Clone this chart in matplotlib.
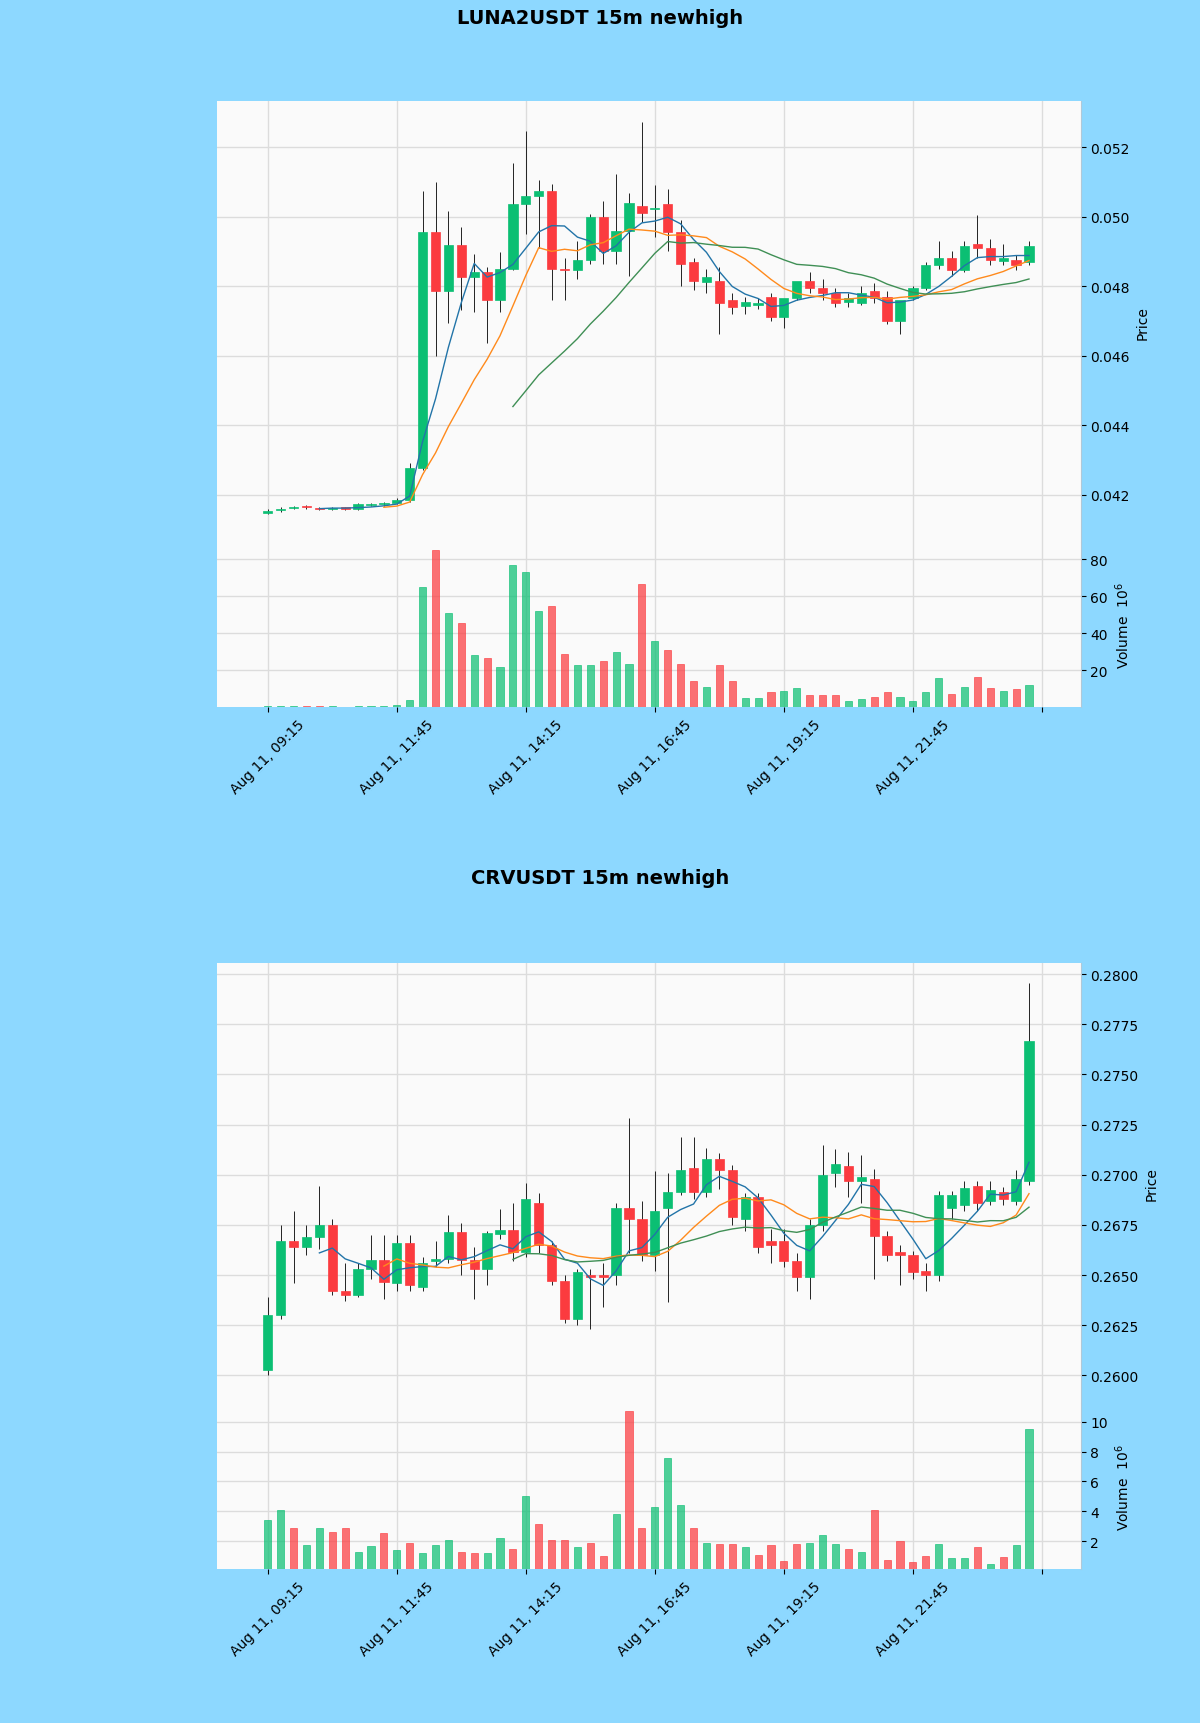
import numpy as np
import matplotlib
matplotlib.use("Agg")
import matplotlib.pyplot as plt

# ---- LUNA2USDT 15m ----
luna_open = [0.04148, 0.04155, 0.04162, 0.04166, 0.04160, 0.04159, 0.04161, 0.04158, 0.04171, 0.04172,
             0.04175, 0.04184, 0.04276, 0.04956, 0.04785, 0.04918, 0.04827, 0.04840, 0.04760, 0.04850,
             0.05035, 0.05060, 0.05075, 0.04850, 0.04845, 0.04875, 0.05000, 0.04900, 0.04960, 0.05030,
             0.05022, 0.05035, 0.04955, 0.04870, 0.04812, 0.04815, 0.04760, 0.04742, 0.04745, 0.04770,
             0.04710, 0.04765, 0.04815, 0.04795, 0.04780, 0.04755, 0.04750, 0.04785, 0.04770, 0.04700,
             0.04765, 0.04795, 0.04860, 0.04880, 0.04845, 0.04920, 0.04910, 0.04872, 0.04875, 0.04870]
luna_close = [0.04152, 0.04160, 0.04165, 0.04163, 0.04158, 0.04160, 0.04160, 0.04172, 0.04172, 0.04175,
              0.04185, 0.04276, 0.04956, 0.04785, 0.04918, 0.04827, 0.04840, 0.04760, 0.04850, 0.05035,
              0.05060, 0.05075, 0.04850, 0.04845, 0.04875, 0.05000, 0.04900, 0.04960, 0.05040, 0.05010,
              0.05026, 0.04955, 0.04865, 0.04815, 0.04825, 0.04750, 0.04740, 0.04755, 0.04752, 0.04710,
              0.04765, 0.04815, 0.04795, 0.04780, 0.04750, 0.04765, 0.04780, 0.04765, 0.04700, 0.04760,
              0.04795, 0.04860, 0.04880, 0.04845, 0.04915, 0.04910, 0.04875, 0.04880, 0.04860, 0.04915]
luna_high = [0.04160, 0.04163, 0.04168, 0.04170, 0.04163, 0.04163, 0.04165, 0.04175, 0.04176, 0.04178,
             0.04190, 0.04290, 0.05073, 0.05099, 0.05016, 0.04969, 0.04893, 0.04855, 0.04898, 0.05153,
             0.05247, 0.05105, 0.05095, 0.04880, 0.04930, 0.05007, 0.05045, 0.05124, 0.05068, 0.05273,
             0.05092, 0.05080, 0.04990, 0.04880, 0.04850, 0.04855, 0.04780, 0.04770, 0.04765, 0.04780,
             0.04740, 0.04800, 0.04840, 0.04820, 0.04795, 0.04780, 0.04800, 0.04810, 0.04785, 0.04740,
             0.04800, 0.04870, 0.04930, 0.04900, 0.04930, 0.05004, 0.04935, 0.04920, 0.04890, 0.04930]
luna_low = [0.04145, 0.04150, 0.04158, 0.04160, 0.04155, 0.04155, 0.04157, 0.04155, 0.04168, 0.04168,
            0.04172, 0.04180, 0.04270, 0.04599, 0.04694, 0.04732, 0.04725, 0.04637, 0.04725, 0.04845,
            0.04950, 0.04910, 0.04760, 0.04760, 0.04820, 0.04865, 0.04865, 0.04865, 0.04830, 0.04985,
            0.04940, 0.04900, 0.04800, 0.04790, 0.04780, 0.04662, 0.04720, 0.04720, 0.04735, 0.04700,
            0.04680, 0.04760, 0.04780, 0.04760, 0.04740, 0.04740, 0.04745, 0.04750, 0.04690, 0.04662,
            0.04760, 0.04790, 0.04850, 0.04830, 0.04840, 0.04880, 0.04860, 0.04860, 0.04845, 0.04860]
luna_volume = [0.5, 0.8, 0.5, 0.6, 0.7, 0.5, 0.4, 0.6, 0.5, 0.7,
               1.0, 4.0, 65.0, 85.0, 51.0, 45.5, 28.0, 26.7, 22.0, 77.0,
               73.0, 52.0, 55.0, 29.0, 23.0, 23.0, 25.0, 29.7, 23.6, 66.7,
               35.8, 31.0, 23.6, 14.0, 11.0, 23.0, 14.0, 5.0, 5.0, 8.0,
               9.0, 10.3, 6.7, 6.7, 6.7, 3.6, 4.2, 5.5, 8.0, 5.5,
               3.6, 8.0, 16.0, 7.3, 11.0, 16.4, 10.3, 9.0, 9.7, 12.0]

# ---- CRVUSDT 15m ----
crv_open = [0.26027, 0.26302, 0.26669, 0.26640, 0.26690, 0.26751, 0.26422, 0.26400, 0.26530, 0.26576,
            0.26460, 0.26660, 0.26439, 0.26570, 0.26580, 0.26713, 0.26576, 0.26530, 0.26707, 0.26724,
            0.26614, 0.26860, 0.26652, 0.26471, 0.26280, 0.26500, 0.26499, 0.26500, 0.26833, 0.26778,
            0.26598, 0.26833, 0.26915, 0.27036, 0.26915, 0.27080, 0.27025, 0.26778, 0.26888, 0.26669,
            0.26669, 0.26570, 0.26488, 0.26751, 0.27009, 0.27042, 0.26970, 0.26981, 0.26696, 0.26614,
            0.26598, 0.26520, 0.26500, 0.26833, 0.26850, 0.26943, 0.26871, 0.26915, 0.26871, 0.26970]
crv_close = [0.26302, 0.26669, 0.26640, 0.26690, 0.26751, 0.26422, 0.26400, 0.26530, 0.26576, 0.26466,
             0.26660, 0.26450, 0.26560, 0.26580, 0.26713, 0.26576, 0.26530, 0.26710, 0.26724, 0.26614,
             0.26877, 0.26652, 0.26471, 0.26280, 0.26515, 0.26488, 0.26488, 0.26833, 0.26778, 0.26598,
             0.26817, 0.26915, 0.27025, 0.26915, 0.27080, 0.27025, 0.26790, 0.26888, 0.26641, 0.26652,
             0.26570, 0.26488, 0.26751, 0.26998, 0.27052, 0.26970, 0.26990, 0.26696, 0.26598, 0.26598,
             0.26515, 0.26500, 0.26899, 0.26899, 0.26932, 0.26860, 0.26926, 0.26877, 0.26981, 0.27667]
crv_high = [0.26390, 0.26750, 0.26817, 0.26750, 0.26943, 0.26780, 0.26560, 0.26560, 0.26700, 0.26700,
            0.26700, 0.26700, 0.26590, 0.26670, 0.26800, 0.26760, 0.26640, 0.26720, 0.26830, 0.26860,
            0.26960, 0.26910, 0.26670, 0.26500, 0.26530, 0.26530, 0.26560, 0.26860, 0.27283, 0.26870,
            0.27020, 0.27010, 0.27190, 0.27190, 0.27135, 0.27110, 0.27050, 0.26910, 0.26910, 0.26730,
            0.26730, 0.26610, 0.26780, 0.27146, 0.27130, 0.27115, 0.27100, 0.27030, 0.26720, 0.26650,
            0.26620, 0.26560, 0.26920, 0.26920, 0.26970, 0.26970, 0.26970, 0.26940, 0.27025, 0.27957]
crv_low = [0.26000, 0.26280, 0.26460, 0.26600, 0.26630, 0.26400, 0.26370, 0.26390, 0.26480, 0.26380,
           0.26420, 0.26420, 0.26420, 0.26540, 0.26560, 0.26500, 0.26380, 0.26450, 0.26680, 0.26570,
           0.26590, 0.26610, 0.26450, 0.26260, 0.26250, 0.26230, 0.26340, 0.26450, 0.26610, 0.26570,
           0.26520, 0.26367, 0.26900, 0.26880, 0.26890, 0.26930, 0.26750, 0.26720, 0.26610, 0.26560,
           0.26540, 0.26420, 0.26380, 0.26720, 0.26940, 0.26890, 0.26860, 0.26480, 0.26570, 0.26450,
           0.26480, 0.26420, 0.26470, 0.26780, 0.26820, 0.26820, 0.26850, 0.26850, 0.26850, 0.26950]
crv_volume = [3.44, 4.1, 2.9, 1.75, 2.9, 2.6, 2.9, 1.25, 1.7, 2.55,
              1.4, 1.9, 1.2, 1.75, 2.1, 1.25, 1.2, 1.2, 2.2, 1.45,
              5.05, 3.15, 2.05, 2.05, 1.6, 1.9, 1.0, 3.8, 10.7, 2.9,
              4.3, 7.6, 4.45, 2.85, 1.9, 1.8, 1.8, 1.6, 1.1, 1.75,
              0.65, 1.8, 1.9, 2.4, 1.8, 1.45, 1.25, 4.1, 0.75, 2.0,
              0.6, 1.0, 1.8, 0.9, 0.9, 1.6, 0.45, 0.95, 1.75, 9.5]

tick_pos = [0, 10, 20, 30, 40, 50, 60]
tick_labels = ['Aug 11, 09:15', 'Aug 11, 11:45', 'Aug 11, 14:15', 'Aug 11, 16:45',
               'Aug 11, 19:15', 'Aug 11, 21:45', '']
mav_periods = [5, 10, 20]

UP = '#0bbf73'
DOWN = '#fb3b3f'
MAV_COLORS = ['#2274a8', '#ff8a1c', '#3f8f55']
FIG_BG = '#8dd8ff'
AX_BG = '#fafafa'
GRID = '#dcdcdc'


def moving_avg(vals, n):
    vals = np.asarray(vals)
    out = np.full(len(vals), np.nan)
    out[n - 1:] = np.convolve(vals, np.ones(n) / n, mode='valid')
    return out


def style_axis(ax):
    ax.set_facecolor(AX_BG)
    ax.grid(True, color=GRID, linewidth=1.0)
    ax.set_axisbelow(True)
    for s in ['top', 'left', 'bottom']:
        ax.spines[s].set_visible(False)
    ax.spines['right'].set_color('#b0c8d8')
    ax.yaxis.tick_right()
    ax.yaxis.set_label_position('right')
    ax.tick_params(labelsize=10)
    ax.set_xlim(-3.92, 63.0)
    ax.set_xticks(tick_pos)


def draw_chart(fig, rect_price, rect_vol, title, title_y, o, h, l, c, v,
               yticks, yfmt, ylim, vticks):
    o, h, l, c, v = map(np.asarray, (o, h, l, c, v))
    x = np.arange(len(o))
    colors = np.where(c >= o, UP, DOWN)

    axp = fig.add_axes(rect_price)
    axv = fig.add_axes(rect_vol, sharex=axp)
    style_axis(axp)
    style_axis(axv)

    # wicks and bodies
    axp.vlines(x, l, h, color='#222222', linewidth=0.7, zorder=2)
    bottoms = np.minimum(o, c)
    heights = np.maximum(np.abs(c - o), (h.max() - l.min()) * 0.003)
    axp.bar(x, heights, width=0.72, bottom=bottoms, color=colors, edgecolor=colors,
            linewidth=0.5, zorder=3)
    for n, col in zip(mav_periods, MAV_COLORS):
        axp.plot(x, moving_avg(c, n), color=col, linewidth=1.0, zorder=4)
    axp.set_yticks(yticks)
    axp.yaxis.set_major_formatter(plt.FormatStrFormatter(yfmt))
    axp.set_ylim(*ylim)
    axp.set_ylabel('Price', fontsize=10)
    plt.setp(axp.get_xticklabels(), visible=False)
    axp.tick_params(axis='x', length=0)

    axv.bar(x, v, width=0.55, color=colors, alpha=0.72, edgecolor=colors, linewidth=0.6)
    axv.set_ylim(0.3 * v.min(), 1.045 * v.max())
    axv.set_yticks(vticks)
    axv.set_ylabel('Volume  $10^{6}$', fontsize=10)
    axv.set_xticklabels(tick_labels, rotation=45, fontsize=10)

    fig.text(0.5, title_y, title, ha='center', va='center', fontsize=14, fontweight='bold')


fig = plt.figure(figsize=(12, 17.24), dpi=100, facecolor=FIG_BG)

draw_chart(fig, [0.181, 0.6845, 0.7195, 0.2564], [0.181, 0.5893, 0.7195, 0.0952],
           'LUNA2USDT 15m newhigh', 1 - 18 / 1724,
           luna_open, luna_high, luna_low, luna_close, luna_volume,
           [0.042, 0.044, 0.046, 0.048, 0.050, 0.052], '%.3f', (0.04061, 0.05333),
           [20, 40, 60, 80])

draw_chart(fig, [0.181, 0.1850, 0.7195, 0.2558], [0.181, 0.0893, 0.7195, 0.0957],
           'CRVUSDT 15m newhigh', 1 - 879 / 1724,
           crv_open, crv_high, crv_low, crv_close, crv_volume,
           [0.2600, 0.2625, 0.2650, 0.2675, 0.2700, 0.2725, 0.2750, 0.2775, 0.2800], '%.4f',
           (0.25857, 0.28055), [2, 4, 6, 8, 10])

fig.savefig('out.png', dpi=100, facecolor=FIG_BG)
